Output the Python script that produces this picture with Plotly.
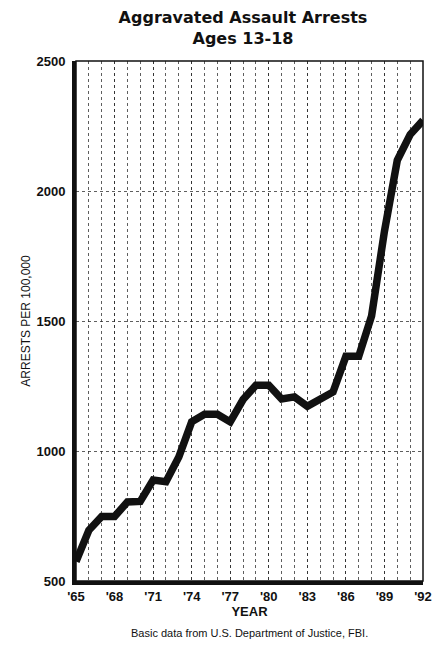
import plotly.graph_objects as go

# Aggravated assault arrests, ages 13-18, per 100,000
YEARS = list(range(1965, 1993))
ARRESTS = [
    575, 695, 748, 748, 804, 806, 888, 882, 977, 1112,
    1141, 1141, 1112, 1198, 1253, 1253, 1200, 1208, 1172, 1198,
    1227, 1364, 1364, 1520, 1845, 2118, 2217, 2272,
]
X_TICKS = list(range(1965, 1993, 3))
X_TICK_LABELS = [f"'{y % 100:02d}" for y in X_TICKS]
Y_TICKS = [500, 1000, 1500, 2000, 2500]

FONT = "Liberation Sans, Arial, Helvetica, sans-serif"
TITLE_FONT = "DejaVu Sans, Liberation Sans, sans-serif"
INK = "#111111"
GRID = "rgba(40,40,40,0.75)"

fig = go.Figure()
fig.add_trace(
    go.Scatter(
        x=YEARS,
        y=ARRESTS,
        mode="lines",
        line=dict(color=INK, width=7.5),
        hovertemplate="%{x}: %{y}<extra></extra>",
    )
)

# thin frame on top and right, heavy axes on left and bottom
fig.add_shape(type="rect", xref="paper", yref="paper", x0=0, y0=0, x1=1, y1=1,
              line=dict(color=INK, width=1.5), layer="above")

# the page body adds an 8px margin, so the figure is 8px smaller than the window
fig.update_layout(
    width=436,
    height=644,
    margin=dict(l=68, r=16, t=53, b=71),
    paper_bgcolor="white",
    plot_bgcolor="white",
    showlegend=False,
    font=dict(family=FONT, color=INK),
    title=dict(
        text="<b>Aggravated Assault Arrests<br>Ages 13-18</b>",
        x=0.539, xanchor="center", y=0.976, yanchor="top",
        font=dict(size=16, family=TITLE_FONT, color=INK),
    ),
    xaxis=dict(
        range=[1965, 1992],
        tickvals=X_TICKS,
        ticktext=X_TICK_LABELS,
        tickfont=dict(size=13, weight="bold"),
        showgrid=True,
        gridcolor=GRID,
        griddash="dot",
        gridwidth=1,
        minor=dict(dtick=1, tick0=1965, showgrid=True, gridcolor=GRID,
                   griddash="dot", gridwidth=1),
        showline=True, linecolor=INK, linewidth=4,
        zeroline=False,
        ticks="",
        title=dict(text="<b>YEAR</b>", font=dict(size=13), standoff=4),
    ),
    yaxis=dict(
        range=[500, 2500],
        tickvals=Y_TICKS,
        tickfont=dict(size=13, weight="bold"),
        showgrid=True,
        gridcolor=GRID,
        griddash="dot",
        gridwidth=1,
        showline=True, linecolor=INK, linewidth=4,
        zeroline=False,
        ticks="",
        ticklabelstandoff=4,
        title=dict(text="ARRESTS PER 100,000", font=dict(size=12), standoff=4),
    ),
    annotations=[
        dict(
            text="Basic data from U.S. Department of Justice, FBI.",
            xref="paper", yref="paper", x=0.5, y=-0.1,
            xanchor="center", yanchor="middle", showarrow=False,
            font=dict(size=11, family=FONT, color=INK),
        )
    ],
)

fig.write_html("out.html")
